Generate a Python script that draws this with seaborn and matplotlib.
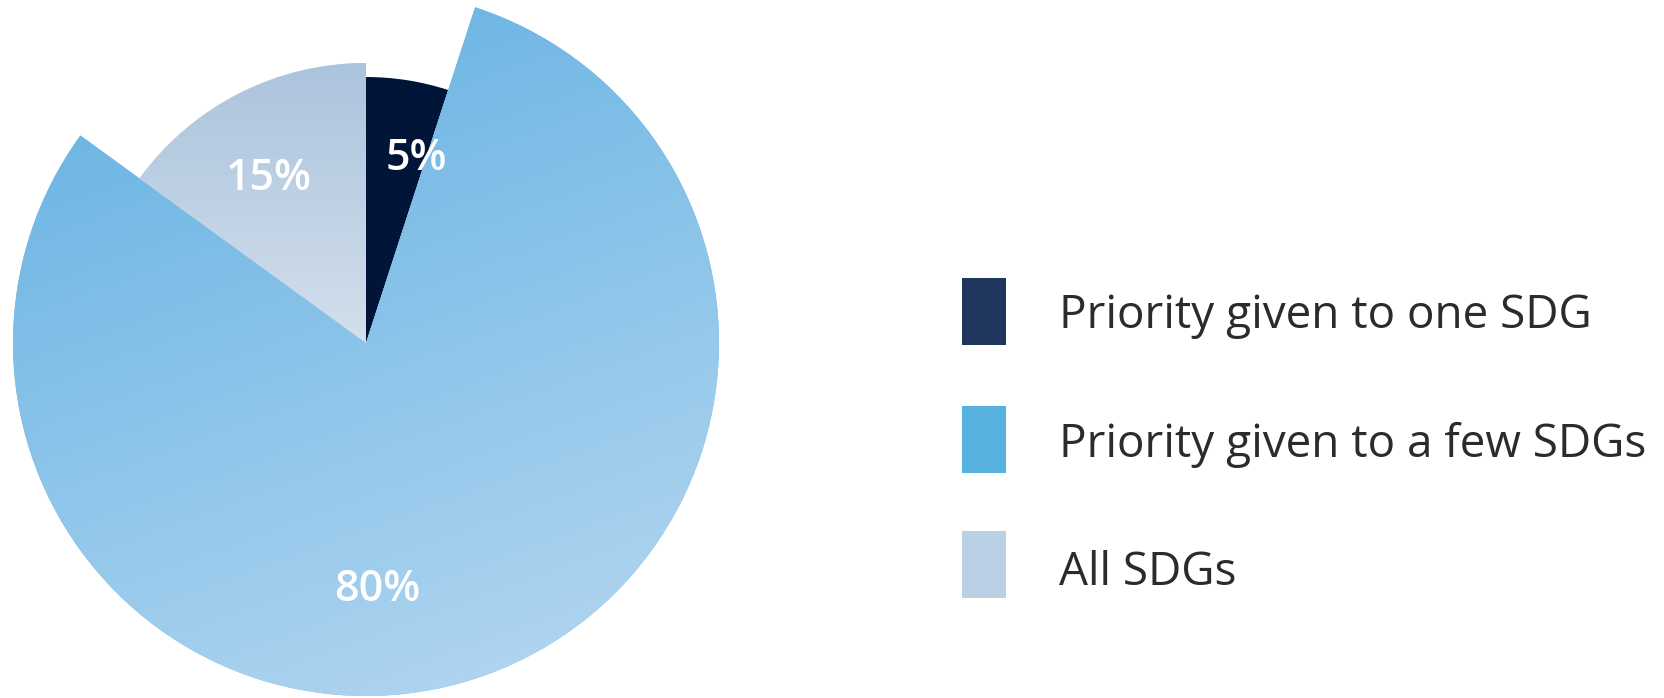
import numpy as np
import matplotlib
matplotlib.use("Agg")
import matplotlib.pyplot as plt
import seaborn as sns
from matplotlib.colors import LinearSegmentedColormap
from matplotlib.patches import Rectangle

# Share of respondents by SDG prioritisation approach
categories = ["Priority given to one SDG", "Priority given to a few SDGs", "All SDGs"]
shares = [5, 80, 15]
pct_labels = [f"{v}%" for v in shares]

sns.set_theme(style="white")
plt.rcParams["font.family"] = ["Open Sans", "DejaVu Sans"]

# Styling
swatch_colors = ["#21365f", "#56b0e0", "#bad0e4"]
slice_base = ["#011539", "#7bbde6", "#bfd1e5"]
slice_radii = [266, 353, 280]                       # pixels
slice_gradients = [None, ("#61b0e2", "#b7d8f1", 20), ("#abc4dd", "#d3dfec", 0)]
label_offsets = [(50, 173), (11, -258), (-97, 153)]  # baseline offsets from centre

W, H = 1665, 698
fig = plt.figure(figsize=(W / 100, H / 100), dpi=100)
ax = fig.add_axes([0, 0, 1, 1])
cx, cy = 366, H - 343

wedges, _ = ax.pie(shares, startangle=90, counterclock=False, center=(cx, cy),
                   radius=1, colors=slice_base, frame=True,
                   wedgeprops=dict(linewidth=0))
for w, r in zip(wedges, slice_radii):
    w.set_radius(r)

ax.set_xlim(0, W)
ax.set_ylim(0, H)
ax.set_aspect("equal")
ax.axis("off")

# Linear gradient fills clipped to the wedges
for w, grad in zip(wedges, slice_gradients):
    if grad is None:
        continue
    c0, c1, tilt = grad
    verts = w.get_path().vertices
    x0, x1 = verts[:, 0].min(), verts[:, 0].max()
    y0, y1 = verts[:, 1].min(), verts[:, 1].max()
    xs = np.linspace(x0, x1, 300)
    ys = np.linspace(y0, y1, 300)
    X, Y = np.meshgrid(xs, ys)
    th = np.deg2rad(tilt)
    proj = X * np.sin(th) - Y * np.cos(th)
    t = (proj - proj.min()) / (proj.max() - proj.min())
    cmap = LinearSegmentedColormap.from_list("g", [c0, c1])
    im = ax.imshow(t, extent=(x0, x1, y0, y1), origin="lower", cmap=cmap,
                   vmin=0, vmax=1, interpolation="bilinear", zorder=2,
                   aspect="auto")
    im.set_clip_path(w)

ax.set_xlim(0, W)
ax.set_ylim(0, H)

for (dx, dy), txt in zip(label_offsets, pct_labels):
    ax.text(cx + dx, cy + dy, txt, color="white", fontsize=31,
            fontweight="semibold", ha="center", va="baseline", zorder=5)

# Legend swatches and labels
sw_x, sw_w, sw_h = 962, 44, 67
sw_tops = [278, 406, 531]
text_base = [328, 457, 585]
for top, base, col, name in zip(sw_tops, text_base, swatch_colors, categories):
    ax.add_patch(Rectangle((sw_x, H - top - sw_h), sw_w, sw_h,
                           facecolor=col, edgecolor="none"))
    ax.text(1059, H - base, name, color="#2b2b2b", fontsize=33,
            ha="left", va="baseline")

fig.savefig("out.png", dpi=100, facecolor="white")
